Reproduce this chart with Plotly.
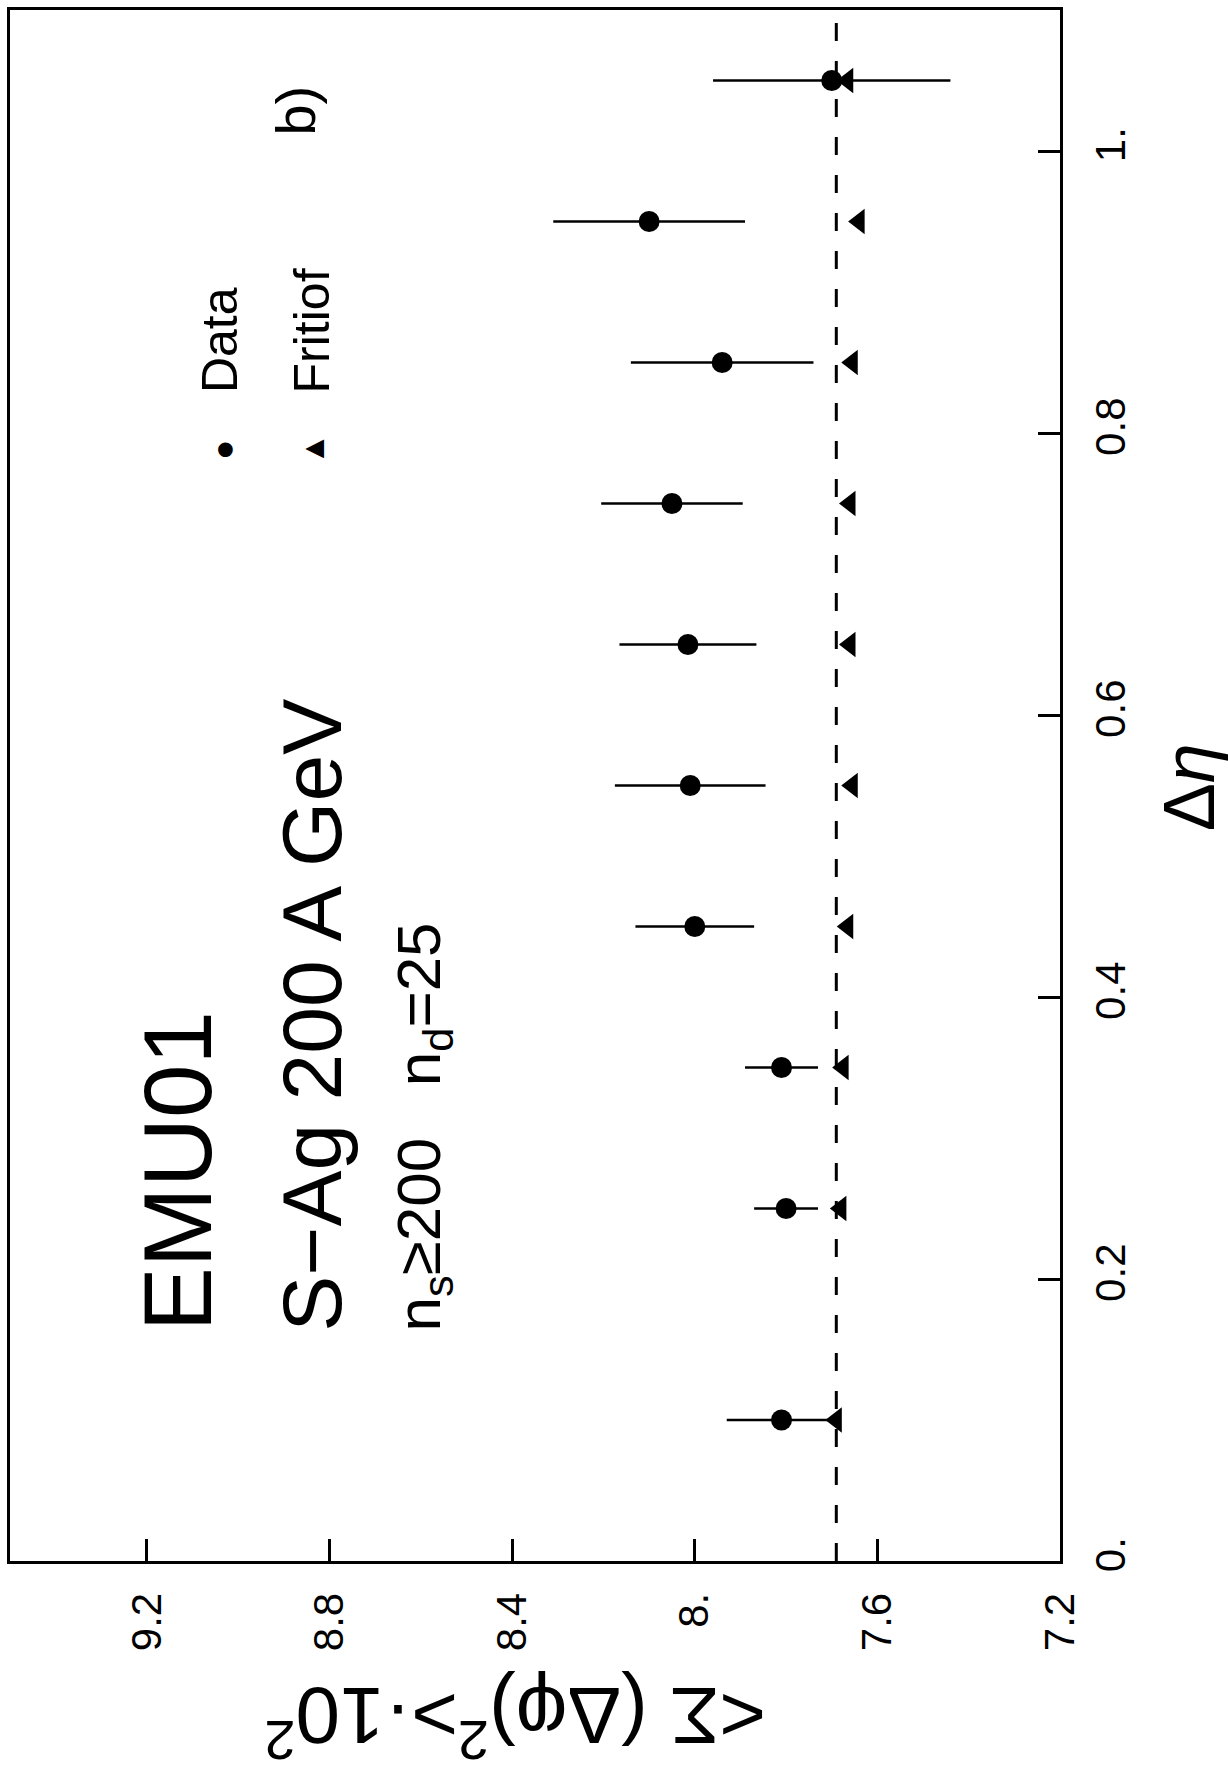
import plotly.graph_objects as go

# ---------------- data ----------------
delta_eta = [0.10, 0.25, 0.35, 0.45, 0.55, 0.65, 0.75, 0.85, 0.95, 1.05]
data_value = [7.81, 7.80, 7.81, 8.00, 8.01, 8.015, 8.05, 7.94, 8.10, 7.70]
data_error = [0.12, 0.07, 0.08, 0.13, 0.165, 0.15, 0.155, 0.20, 0.21, 0.26]
fritiof_value = [7.69, 7.68, 7.675, 7.665, 7.655, 7.66, 7.66, 7.655, 7.64, 7.665]
reference_level = 7.69

value_ticks = [7.2, 7.6, 8.0, 8.4, 8.8, 9.2]
value_tick_labels = ["7.2", "7.6", "8.", "8.4", "8.8", "9.2"]
eta_ticks = [0.0, 0.2, 0.4, 0.6, 0.8, 1.0]
eta_tick_labels = ["0.", "0.2", "0.4", "0.6", "0.8", "1."]

# ---------------- layout geometry ----------------
W, H = 1228, 1787
ML, MR, MT, MB = 9, 168, 7, 226
PW = W - ML - MR
PH = H - MT - MB
FONT = "Liberation Sans, Arial, sans-serif"


def px(x):
    return (x - ML) / PW


def py(y):
    return (H - MB - y) / PH


fig = go.Figure()

fig.add_shape(type="line", xref="x", yref="paper",
              x0=reference_level, x1=reference_level, y0=0, y1=1,
              line=dict(color="black", width=3, dash="18px,20px"), layer="below")

fig.add_trace(go.Scatter(
    x=data_value, y=delta_eta, mode="markers", name="Data",
    marker=dict(symbol="circle", size=21, color="black"),
    error_x=dict(type="data", array=data_error, color="black", thickness=2.6, width=0),
))
fig.add_trace(go.Scatter(
    x=fritiof_value, y=delta_eta, mode="markers", name="Fritiof",
    marker=dict(symbol="triangle-left", size=22, color="black"),
))

ann = []


def text(t, x, y, size, angle=-90, xa="center", ya="middle"):
    ann.append(dict(text=t, x=px(x), y=py(y), xref="paper", yref="paper",
                    showarrow=False, textangle=angle, xanchor=xa, yanchor=ya,
                    font=dict(family=FONT, size=size, color="black")))


text("EMU01", 177, 1333, 96, ya="bottom")
text("S\u2212Ag 200 A GeV", 311, 1333, 84, ya="bottom")
text("n<sub>s</sub>\u2265200   n<sub>d</sub>=25", 422, 1333, 62, ya="bottom")

# legend
text("\u25CF", 222, 447, 34)
text("Data", 219, 393, 50, ya="bottom")
text("\u25B2", 312, 447, 32)
text("Fritiof", 311, 393, 50, ya="bottom")

text("b)", 295, 108, 56)

# axis titles
text("\u0394<i>\u03B7</i>", 1190, 786, 72)
text("&lt;\u03A3 (\u0394\u03C6)<sup>2</sup>&gt;\u00B710<sup>2</sup>", 515, 1722, 80, angle=180)

fig.update_layout(
    width=W, height=H,
    margin=dict(l=ML, r=MR, t=MT, b=MB),
    plot_bgcolor="white", paper_bgcolor="white",
    showlegend=False,
    annotations=ann,
    xaxis=dict(range=[9.5, 7.2], tickvals=value_ticks, ticktext=value_tick_labels,
               ticks="inside", ticklen=22, tickwidth=3, tickcolor="black",
               tickangle=-90, ticklabelstandoff=12,
               showline=True, linecolor="black", linewidth=3, mirror=True,
               showgrid=False, zeroline=False,
               tickfont=dict(family=FONT, size=42, color="black")),
    yaxis=dict(range=[0, 1.1], side="right", tickvals=eta_ticks, ticktext=eta_tick_labels,
               ticks="inside", ticklen=22, tickwidth=3, tickcolor="black",
               tickangle=-90, ticklabelstandoff=12,
               showline=True, linecolor="black", linewidth=3, mirror=True,
               showgrid=False, zeroline=False,
               tickfont=dict(family=FONT, size=42, color="black")),
)

fig.write_html("out.html")
